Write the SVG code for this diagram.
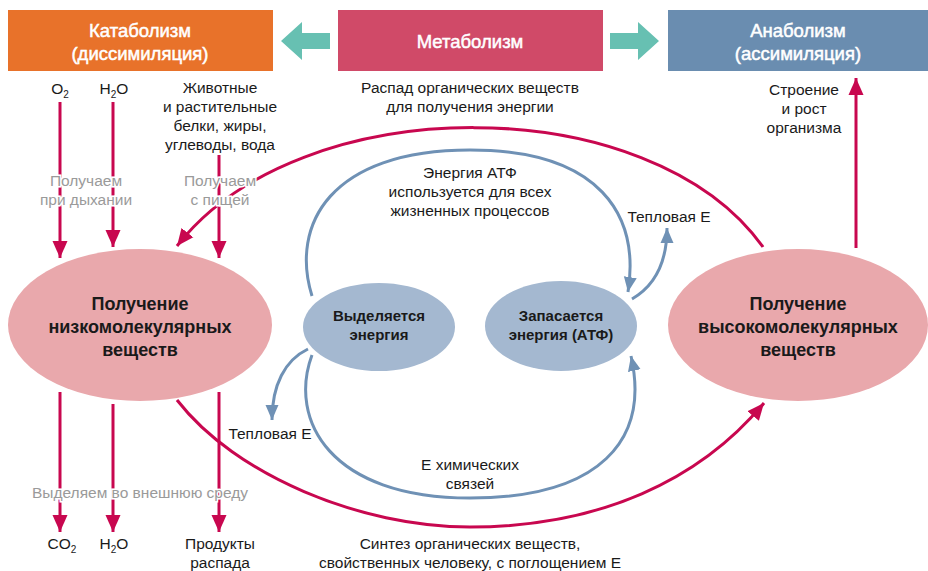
<svg xmlns="http://www.w3.org/2000/svg" width="928" height="571" viewBox="0 0 928 571">
<defs>
<marker id="ar" markerUnits="userSpaceOnUse" markerWidth="18" markerHeight="16" refX="17" refY="8" orient="auto"><path d="M0,0.5 L17,8 L0,15.5 z" fill="#C8074F"/></marker>
<marker id="ab" markerUnits="userSpaceOnUse" markerWidth="16" markerHeight="14" refX="15" refY="7" orient="auto"><path d="M0,0.5 L15,7 L0,13.5 z" fill="#6F91B5"/></marker>
<style>
text{font-family:"Liberation Sans",Arial,sans-serif;fill:#1a1a1a;text-anchor:middle}
.t{font-size:15.5px}
.g{font-size:15.5px;fill:#9a9a9a;stroke:#fff;stroke-width:3px;paint-order:stroke}
.h{font-size:18.5px;fill:#fff;stroke:#fff;stroke-width:0.5px}
.b{font-size:18px;font-weight:bold}
.s{font-size:15px;font-weight:bold}
.red{fill:none;stroke:#C8074F;stroke-width:3}
.blue{fill:none;stroke:#6F91B5;stroke-width:3}
.sub{font-size:10px}
</style>
</defs>
<g id="headers">
<g id="katabolizm"><rect x="8" y="10" width="265" height="61" fill="#E8722A"/><text class="h" x="140" y="37">Катаболизм</text><text class="h" x="140" y="60">(диссимиляция)</text></g>
<g id="metabolizm"><rect x="338" y="10" width="265" height="61" fill="#D04A68"/><text class="h" x="470" y="48">Метаболизм</text></g>
<g id="anabolizm"><rect x="668" y="10" width="260" height="61" fill="#6A8DB0"/><text class="h" x="798" y="37">Анаболизм</text><text class="h" x="798" y="60">(ассимиляция)</text></g>
<path id="arrowL" d="M281,41 L302,22 L302,33 L330,33 L330,49 L302,49 L302,60 z" fill="#67C0B2"/>
<path id="arrowR" d="M659,41 L638,22 L638,33 L610,33 L610,49 L638,49 L638,60 z" fill="#67C0B2"/>
</g>
<g id="connectors">
<path class="red" d="M60,102 V258" marker-end="url(#ar)"/>
<path class="red" d="M113,102 V247" marker-end="url(#ar)"/>
<path class="red" d="M219,155 V258" marker-end="url(#ar)"/>
<path class="red" d="M763,247 C650,88 300,88 177,246" marker-end="url(#ar)"/>
<path class="red" d="M60,392 V532" marker-end="url(#ar)"/>
<path class="red" d="M113,404 V532" marker-end="url(#ar)"/>
<path class="red" d="M219,392 V532" marker-end="url(#ar)"/>
<path class="red" d="M177,400 C235,475 360,527 470,527 C600,527 700,480 764,403" marker-end="url(#ar)"/>
<path class="red" d="M856,248 V78" marker-end="url(#ar)"/>
<path class="blue" d="M312,296 C290,225 330,150 470,150 C600,150 640,215 628,292" marker-end="url(#ab)"/>
<path class="blue" d="M632,299 C656,285 667,262 667,228" marker-end="url(#ab)"/>
<path class="blue" d="M312,355 C288,420 330,498 470,498 C600,498 650,440 631,356" marker-end="url(#ab)"/>
<path class="blue" d="M308,349 C285,360 272,385 272,420" marker-end="url(#ab)"/>
</g>
<g id="labels">
<text class="t" x="60" y="94">O<tspan class="sub" dy="4">2</tspan></text>
<text class="t" x="114" y="94">H<tspan class="sub" dy="4">2</tspan><tspan dy="-4">O</tspan></text>
<text class="t" x="220" y="93">Животные</text>
<text class="t" x="220" y="112">и растительные</text>
<text class="t" x="220" y="131">белки, жиры,</text>
<text class="t" x="220" y="150">углеводы, вода</text>
<text class="t" x="470" y="93">Распад органических веществ</text>
<text class="t" x="470" y="112">для получения энергии</text>
<text class="t" x="804" y="95">Строение</text>
<text class="t" x="804" y="114">и рост</text>
<text class="t" x="804" y="133">организма</text>
<text class="g" x="86" y="186">Получаем</text>
<text class="g" x="86" y="205">при дыхании</text>
<text class="g" x="220" y="186">Получаем</text>
<text class="g" x="220" y="205">с пищей</text>
<text class="t" x="470" y="178">Энергия АТФ</text>
<text class="t" x="470" y="197">используется для всех</text>
<text class="t" x="470" y="216">жизненных  процессов</text>
<text class="t" x="669" y="222">Тепловая E</text>
<text class="t" x="270" y="439">Тепловая E</text>
<text class="t" x="470" y="470">E химических</text>
<text class="t" x="470" y="489">связей</text>
<text class="g" x="140" y="498">Выделяем во внешнюю среду</text>
<text class="t" x="62" y="549">CO<tspan class="sub" dy="4">2</tspan></text>
<text class="t" x="114" y="549">H<tspan class="sub" dy="4">2</tspan><tspan dy="-4">O</tspan></text>
<text class="t" x="220" y="549">Продукты</text>
<text class="t" x="220" y="568">распада</text>
<text class="t" x="470" y="549">Синтез органических веществ,</text>
<text class="t" x="470" y="568">свойственных человеку, с поглощением E</text>
</g>
<g id="low">
<ellipse cx="140" cy="325" rx="132" ry="76" fill="#E9A8AC"/>
<text class="b" x="140" y="310">Получение</text>
<text class="b" x="140" y="333">низкомолекулярных</text>
<text class="b" x="140" y="356">веществ</text>
</g>
<g id="high">
<ellipse cx="798" cy="325" rx="130" ry="76" fill="#E9A8AC"/>
<text class="b" x="798" y="310">Получение</text>
<text class="b" x="798" y="333">высокомолекулярных</text>
<text class="b" x="798" y="356">веществ</text>
</g>
<g id="release">
<ellipse cx="379" cy="327" rx="76" ry="44" fill="#A4B8D0"/>
<text class="s" x="379" y="321">Выделяется</text>
<text class="s" x="379" y="340">энергия</text>
</g>
<g id="store">
<ellipse cx="561" cy="326" rx="76" ry="45" fill="#A4B8D0"/>
<text class="s" x="561" y="321">Запасается</text>
<text class="s" x="561" y="340">энергия (АТФ)</text>
</g>
</svg>
